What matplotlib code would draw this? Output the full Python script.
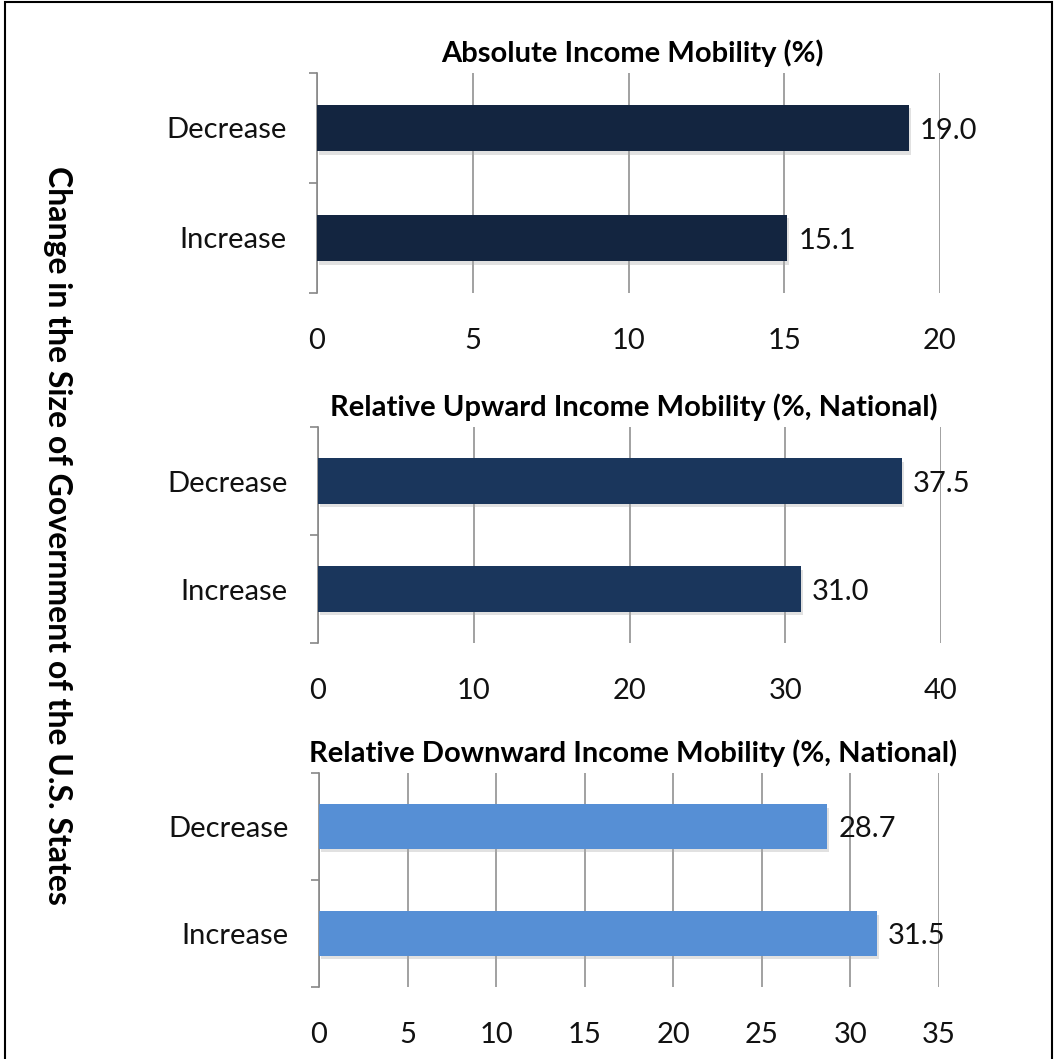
import matplotlib.pyplot as plt
from matplotlib.patches import Rectangle
import matplotlib.patheffects as pe

plt.rcParams['font.family'] = ['Lato', 'DejaVu Sans']

categories = ['Increase', 'Decrease']

abs_values = [15.1, 19.0]
up_values = [31.0, 37.5]
down_values = [31.5, 28.7]

abs_ticks = [0, 5, 10, 15, 20]
up_ticks = [0, 10, 20, 30, 40]
down_ticks = [0, 5, 10, 15, 20, 25, 30, 35]

titles = ['Absolute Income Mobility (%)',
          'Relative Upward Income Mobility (%, National)',
          'Relative Downward Income Mobility (%, National)']
colors = ['#132540', '#1a365c', '#568fd5']
ylabel = 'Change in the Size of Government of the U.S. States'

W, H = 1055, 1059
fig = plt.figure(figsize=(W / 100, H / 100), dpi=100)

# panel boxes in pixels: left, right, top, bottom
boxes = [(317, 940, 73, 293), (318, 941, 427, 643), (319, 939, 773, 987)]
panels = [(abs_values, abs_ticks), (up_values, up_ticks), (down_values, down_ticks)]

for (l, r, t, b), (vals, ticks), title, col in zip(boxes, panels, titles, colors):
    ax = fig.add_axes([l / W, 1 - b / H, (r - l) / W, (b - t) / H])
    ypos = range(len(categories))
    bars = ax.barh(ypos, vals, height=0.42, color=col, zorder=3)
    for bar in bars:
        bar.set_path_effects([pe.SimplePatchShadow(offset=(1.5, -2.5), shadow_rgbFace='#aaaaaa', alpha=0.35),
                              pe.Normal()])
    for y, v in zip(ypos, vals):
        ax.annotate(f'{v:.1f}', (v, y), xytext=(8, -2), textcoords='offset points',
                    va='center', ha='left', fontsize=21, color='#111111', zorder=4)
    ax.set_xlim(ticks[0], ticks[-1])
    ax.set_ylim(-0.5, 1.5)
    ax.set_xticks(ticks)
    ax.set_yticks(list(ypos))
    ax.set_yticklabels(categories)
    ax.set_yticks([-0.5, 0.5, 1.5], minor=True)
    ax.tick_params(axis='x', length=0, pad=25, labelsize=21, colors='#111111')
    ax.tick_params(axis='y', which='major', length=0, pad=22, labelsize=21, colors='#111111')
    ax.tick_params(axis='y', which='minor', length=6, color='#888888', width=1.2)
    for lab in ax.get_yticklabels():
        lab.set_va('center_baseline')
    ax.grid(axis='x', color='#888888', linewidth=1.1, zorder=0)
    ax.set_axisbelow(True)
    for s in ['top', 'right', 'bottom']:
        ax.spines[s].set_visible(False)
    ax.spines['left'].set_color('#888888')
    ax.spines['left'].set_linewidth(1.2)
    ax.set_title(title, fontsize=21, fontweight='bold', pad=8, x=0.507)

fig.text(57 / W, 1 - 535 / H, ylabel, rotation=270, ha='center', va='center',
         fontsize=23, fontweight='bold')

# outer frame
fig.patches.append(Rectangle((5 / W, -0.05), 1047 / W, 1.05 - 2 / H, transform=fig.transFigure,
                             fill=False, edgecolor='black', linewidth=1.5))

fig.savefig('out.png', dpi=100)
